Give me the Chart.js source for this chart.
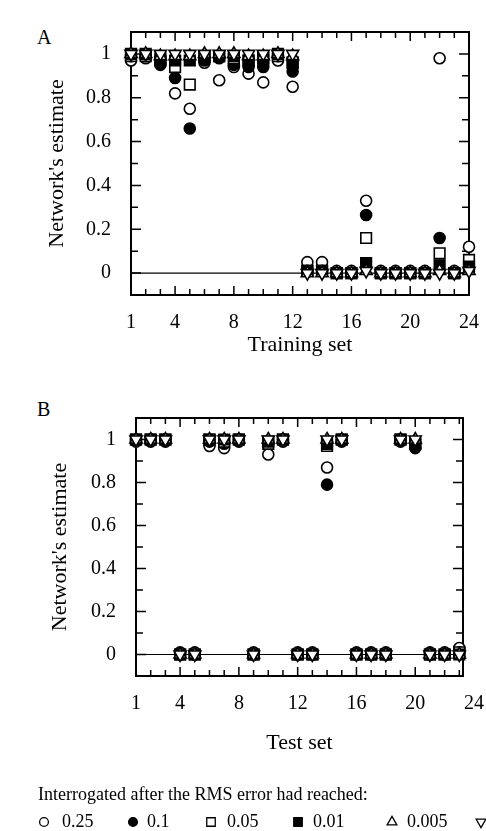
<!DOCTYPE html>
<html>
<head>
<meta charset="utf-8">
<script src="https://cdn.jsdelivr.net/npm/chart.js@4.4.0/dist/chart.umd.min.js"></script>
<style>
html, body { margin: 0; padding: 0; background: #fff; overflow: hidden; }
body { width: 486px; height: 831px; position: relative; font-family: 'Liberation Serif', serif; }
.panel { position: absolute; left: 37px; font-size: 20px; color: #000; }
#wrapA { position: absolute; left: 0; top: 0; width: 486px; height: 380px; }
#wrapB { position: absolute; left: 0; top: 380px; width: 486px; height: 451px; }
</style>
</head>
<body>
<div class="panel" style="top:26px">A</div>
<div class="panel" style="top:398px">B</div>
<div id="wrapA"><canvas id="chartA"></canvas></div>
<div id="wrapB"><canvas id="chartB"></canvas></div>
<script>
// training set (panel A), items 1..24
var trainSet = [1, 2, 3, 4, 5, 6, 7, 8, 9, 10, 11, 12, 13, 14, 15, 16, 17, 18, 19, 20, 21, 22, 23, 24];
var trainRms025 = [0.97, 0.98, 0.98, 0.82, 0.75, 0.96, 0.88, 0.94, 0.91, 0.87, 0.97, 0.85, 0.05, 0.05, 0.01, 0.01, 0.33, 0.01, 0.01, 0.01, 0.01, 0.98, 0.01, 0.12];
var trainRms01  = [0.99, 0.99, 0.95, 0.89, 0.66, 0.97, 0.98, 0.95, 0.94, 0.94, 0.99, 0.92, 0.01, 0.01, 0.00, 0.00, 0.265, 0.00, 0.00, 0.00, 0.00, 0.16, 0.00, 0.02];
var trainRms005 = [0.99, 0.99, 0.98, 0.94, 0.86, 0.99, 0.99, 0.98, 0.97, 0.98, 0.99, 0.96, 0.01, 0.01, 0.00, 0.00, 0.16, 0.00, 0.00, 0.00, 0.00, 0.09, 0.00, 0.06];
var trainRms001 = [1.00, 1.00, 0.97, 0.97, 0.97, 0.99, 0.99, 0.99, 0.97, 0.98, 1.00, 0.96, 0.01, 0.01, 0.00, 0.00, 0.045, 0.00, 0.00, 0.00, 0.00, 0.035, 0.00, 0.03];
var trainRms0005 = [1.00, 1.00, 0.99, 0.99, 0.99, 1.00, 1.00, 1.00, 0.99, 0.99, 1.00, 0.99, 0.00, 0.00, 0.00, 0.00, 0.01, 0.00, 0.00, 0.00, 0.00, 0.01, 0.00, 0.01];
var trainRms0001 = [1.00, 1.00, 1.00, 1.00, 1.00, 1.00, 1.00, 1.00, 1.00, 1.00, 1.00, 1.00, 0.00, 0.00, 0.00, 0.00, 0.01, 0.00, 0.00, 0.00, 0.00, 0.00, 0.00, 0.01];

// test set (panel B), items 1..23
var testSet = [1, 2, 3, 4, 5, 6, 7, 8, 9, 10, 11, 12, 13, 14, 15, 16, 17, 18, 19, 20, 21, 22, 23];
var testRms025 = [0.99, 0.99, 0.99, 0.01, 0.01, 0.97, 0.96, 0.99, 0.01, 0.93, 0.99, 0.01, 0.01, 0.87, 0.99, 0.01, 0.01, 0.01, 0.99, 0.98, 0.01, 0.01, 0.03];
var testRms01  = [1.00, 1.00, 1.00, 0.00, 0.00, 0.99, 0.98, 1.00, 0.00, 0.98, 1.00, 0.00, 0.00, 0.79, 1.00, 0.00, 0.00, 0.00, 1.00, 0.96, 0.00, 0.00, 0.01];
var testRms005 = [1.00, 1.00, 1.00, 0.00, 0.00, 1.00, 0.99, 1.00, 0.00, 0.98, 1.00, 0.00, 0.00, 0.97, 1.00, 0.00, 0.00, 0.00, 1.00, 0.98, 0.00, 0.00, 0.01];
var testRms001 = [1.00, 1.00, 1.00, 0.00, 0.00, 1.00, 1.00, 1.00, 0.00, 0.99, 1.00, 0.00, 0.00, 0.98, 1.00, 0.00, 0.00, 0.00, 1.00, 0.98, 0.00, 0.00, 0.00];
var testRms0005 = [1.00, 1.00, 1.00, 0.00, 0.00, 1.00, 1.00, 1.00, 0.00, 1.00, 1.00, 0.00, 0.00, 1.00, 1.00, 0.00, 0.00, 0.00, 1.00, 1.00, 0.00, 0.00, 0.00];
var testRms0001 = [1.00, 1.00, 1.00, 0.00, 0.00, 1.00, 1.00, 1.00, 0.00, 1.00, 1.00, 0.00, 0.00, 1.00, 1.00, 0.00, 0.00, 0.00, 1.00, 1.00, 0.00, 0.00, 0.00];

var rmsLabels = ['0.25', '0.1', '0.05', '0.01', '0.005', '0.001'];
var xTicks = [1, 4, 8, 12, 16, 20, 24];
var yTicks = [0, 0.2, 0.4, 0.6, 0.8, 1];

var tickFont = { family: 'Liberation Serif', size: 20 };
var titleFont = { family: 'Liberation Serif', size: 22 };

// marker look per RMS level
var markers = [
  { style: 'circle',   r: 5.5, fill: '#fff', rot: 0 },
  { style: 'circle',   r: 5.5, fill: '#000', rot: 0 },
  { style: 'rect',     r: 7.5, fill: '#fff', rot: 0 },
  { style: 'rect',     r: 7.5, fill: '#000', rot: 0 },
  { style: 'triangle', r: 7,   fill: '#fff', rot: 0 },
  { style: 'triangle', r: 7,   fill: '#fff', rot: 180 }
];

function buildSets(xs, series) {
  return series.map(function(vals, i) {
    var m = markers[i];
    return {
      label: rmsLabels[i],
      data: vals.map(function(v, j) { return { x: xs[j], y: v }; }),
      pointStyle: m.style,
      pointRadius: m.r,
      pointRotation: m.rot,
      pointBackgroundColor: m.fill,
      pointBorderColor: '#000',
      borderWidth: 1.6,
      showLine: false,
      clip: false,
      order: 5 - i
    };
  });
}

// box, inward ticks and the zero line
var framePlugin = {
  id: 'frame',
  beforeDatasetsDraw: function(chart) {
    var ctx = chart.ctx, a = chart.chartArea;
    var xs = chart.scales.x, ys = chart.scales.y;
    ctx.save();
    ctx.strokeStyle = '#000';
    ctx.lineWidth = 1.2;
    var y0 = ys.getPixelForValue(0);
    ctx.beginPath();
    ctx.moveTo(a.left, y0);
    ctx.lineTo(a.right, y0);
    ctx.stroke();

    ctx.lineWidth = 1.5;
    ctx.beginPath();
    for (var v = Math.ceil(xs.min); v <= xs.max; v++) {
      var px = xs.getPixelForValue(v);
      var len = (v % 4 === 0) ? 9 : 6;
      ctx.moveTo(px, a.bottom); ctx.lineTo(px, a.bottom - len);
      ctx.moveTo(px, a.top); ctx.lineTo(px, a.top + len);
    }
    for (var k = 0; k <= 10; k++) {
      var py = ys.getPixelForValue(k / 10);
      var l = (k % 2 === 0) ? 10 : 7;
      ctx.moveTo(a.left, py); ctx.lineTo(a.left + l, py);
      ctx.moveTo(a.right, py); ctx.lineTo(a.right - l, py);
    }
    ctx.stroke();

    ctx.lineWidth = 2;
    ctx.strokeRect(a.left, a.top, a.right - a.left, a.bottom - a.top);
    ctx.restore();
  }
};

// legend row under panel B
var rmsLegend = {
  id: 'rmsLegend',
  afterDraw: function(chart, args, opts) {
    if (!opts.display) return;
    var ctx = chart.ctx;
    ctx.save();
    ctx.fillStyle = '#000';
    ctx.font = opts.font;
    ctx.textBaseline = 'middle';
    ctx.textAlign = 'left';
    ctx.fillText(opts.title, opts.titleX, opts.titleY);
    chart.data.datasets.forEach(function(ds, i) {
      var cx = opts.symbolX[i];
      ctx.fillStyle = ds.pointBackgroundColor;
      ctx.strokeStyle = ds.pointBorderColor;
      ctx.lineWidth = 1.3;
      Chart.helpers.drawPoint(ctx, {
        pointStyle: ds.pointStyle,
        radius: ds.pointRadius * 0.8,
        rotation: ds.pointRotation,
        borderWidth: 1.3
      }, cx, opts.rowY);
      ctx.fillStyle = '#000';
      ctx.fillText(ds.label, opts.textX[i], opts.rowY);
    });
    ctx.restore();
  }
};

function makeChart(id, xs, series, xMax, xTitle, yWidth, yTitlePad, padding, xTitlePad, legendOpts) {
  return new Chart(document.getElementById(id), {
    type: 'scatter',
    data: { datasets: buildSets(xs, series) },
    plugins: [framePlugin, rmsLegend],
    options: {
      responsive: true,
      maintainAspectRatio: false,
      animation: false,
      layout: { padding: padding },
      plugins: {
        legend: { display: false },
        tooltip: { enabled: false },
        rmsLegend: legendOpts
      },
      scales: {
        x: {
          type: 'linear',
          min: 1,
          max: xMax,
          afterBuildTicks: function(s) { s.ticks = xTicks.map(function(v) { return { value: v }; }); },
          afterFit: function(s) { s.height = 85; s.paddingLeft = 0; s.paddingRight = 0; },
          grid: { display: false, drawTicks: false },
          border: { display: false },
          ticks: { font: tickFont, color: '#000', padding: 16, maxRotation: 0, autoSkip: false },
          title: { display: true, text: xTitle, font: titleFont, color: '#000', padding: { top: 0, bottom: xTitlePad } }
        },
        y: {
          min: -0.1,
          max: 1.1,
          afterBuildTicks: function(s) { s.ticks = yTicks.map(function(v) { return { value: v }; }); },
          afterFit: function(s) { s.width = yWidth; s.paddingTop = 0; s.paddingBottom = 0; },
          grid: { display: false, drawTicks: false },
          border: { display: false },
          ticks: { font: tickFont, color: '#000', padding: 20, callback: function(v) { return String(v); } },
          title: { display: true, text: "Network's estimate", font: titleFont, color: '#000', padding: { top: yTitlePad, bottom: 0 } }
        }
      }
    }
  });
}

makeChart('chartA', trainSet,
  [trainRms025, trainRms01, trainRms005, trainRms001, trainRms0005, trainRms0001],
  24, 'Training set', 131, 44, { top: 32, right: 17, left: 0, bottom: 0 }, 22, { display: false });

makeChart('chartB', testSet,
  [testRms025, testRms01, testRms005, testRms001, testRms0005, testRms0001],
  23.25, 'Test set', 136, 47, { top: 38, right: 23, left: 0, bottom: 70 }, 5, {
    display: true,
    font: "18px 'Liberation Serif'",
    title: 'Interrogated after the RMS error had reached:',
    titleX: 38,
    titleY: 415,
    rowY: 442,
    symbolX: [44, 133, 211, 298, 392, 481],
    textX: [62, 147, 227, 313, 407, 500]
  });
</script>
</body>
</html>
